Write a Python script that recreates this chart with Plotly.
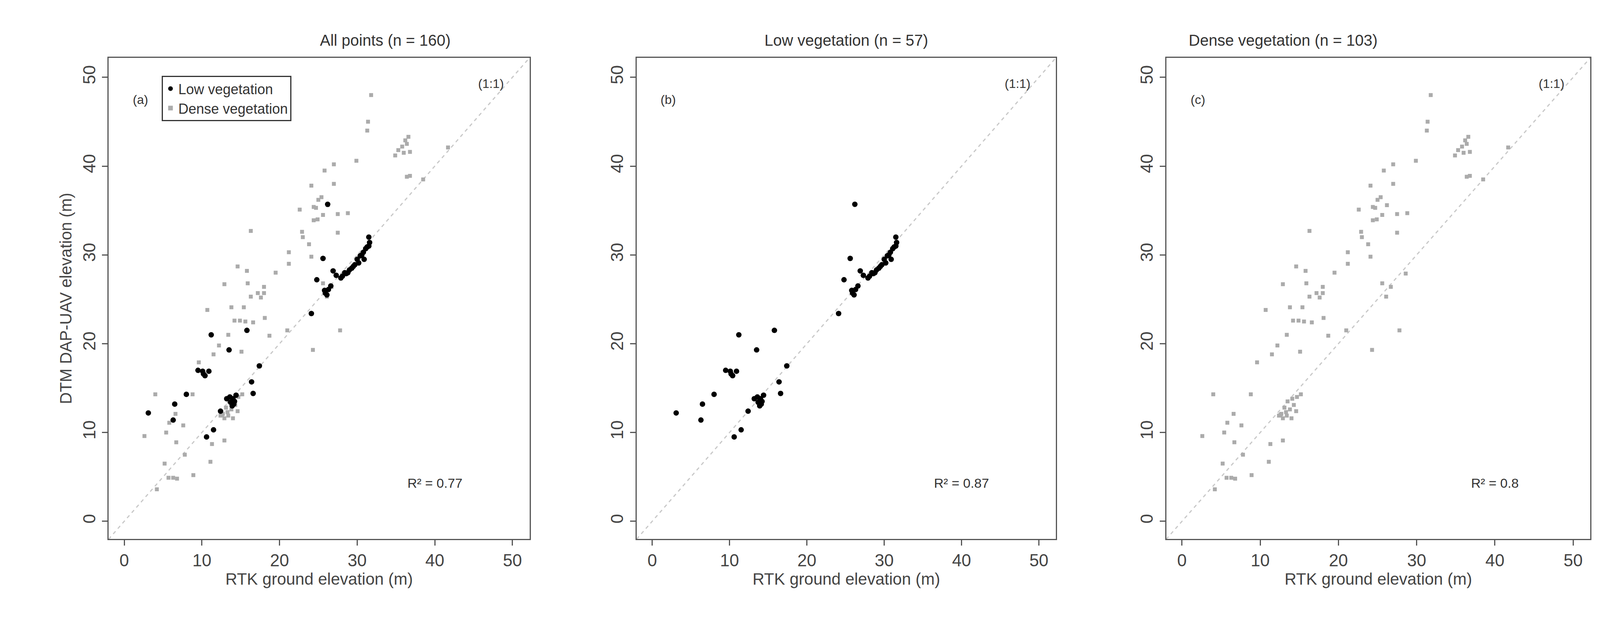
import plotly.graph_objects as go

# RTK vs DTM elevations
low_x = [3.1, 6.5, 6.3, 8.0, 9.5, 10.2, 10.9, 10.1, 11.2, 10.6, 11.5, 12.4, 13.5, 13.2, 13.7, 14.0,
         14.4, 14.2, 13.9, 15.8, 16.4, 16.6, 17.4, 24.1, 24.8, 25.6, 26.2, 25.9, 26.3, 26.6, 26.1,
         26.9, 27.3, 28.1, 28.4, 29.0, 29.3, 29.7, 30.0, 30.4, 30.8, 31.1, 31.5, 31.5, 31.6, 30.9,
         30.2, 28.8, 29.5, 28.6, 27.9, 25.8, 30.6, 31.3, 13.6, 14.1, 10.4]
low_y = [12.2, 13.2, 11.4, 14.3, 17.0, 16.6, 16.9, 16.9, 21.0, 9.5, 10.3, 12.4, 19.3, 13.8, 13.4, 13.8,
         14.2, 13.5, 13.0, 21.5, 15.7, 14.4, 17.5, 23.4, 27.2, 29.6, 35.7, 25.7, 26.1, 26.5, 25.5,
         28.2, 27.7, 27.6, 28.0, 28.3, 28.5, 28.9, 29.5, 29.9, 30.3, 30.7, 31.0, 32.0, 31.4, 29.5,
         29.1, 28.0, 28.7, 27.9, 27.4, 26.0, 30.0, 30.9, 14.0, 13.2, 16.4]

dense_x = [31.8, 31.4, 31.3, 36.6, 36.4, 35.8, 35.3, 34.9, 36.8, 36.2, 41.7, 38.5, 36.4, 36.8, 29.9,
           27.0, 25.8, 24.1, 27.0, 25.4, 24.4, 24.7, 26.2, 22.6, 27.5, 28.8, 25.6, 24.4, 16.3, 22.9,
           23.0, 27.5, 23.8, 24.1, 21.2, 21.2, 19.5, 14.6, 15.8, 12.9, 15.9, 18.0, 18.0, 17.2, 16.3,
           28.6, 25.6, 26.7, 26.1, 13.8, 15.4, 10.7, 14.2, 14.9, 15.6, 16.6, 18.1, 13.4, 18.7, 21.0,
           27.8, 12.2, 11.5, 15.1, 24.3, 9.6, 4.0, 8.8, 15.2, 14.7, 14.1, 13.5, 14.3, 13.8, 13.3,
           12.7, 13.4, 14.0, 12.9, 12.4, 6.6, 5.8, 7.6, 5.4, 2.6, 6.7, 11.3, 12.9, 7.8, 5.2, 11.1,
           8.9, 5.7, 6.3, 6.8, 4.2, 36.0, 25.0, 13.1, 14.6, 12.6, 24.9, 17.6]
dense_y = [48.0, 45.0, 44.0, 43.3, 42.5, 42.2, 41.8, 41.2, 41.6, 42.9, 42.1, 38.5, 38.8, 38.9, 40.6,
           40.2, 39.5, 37.8, 38.0, 36.5, 35.4, 35.3, 35.6, 35.1, 34.6, 34.7, 34.5, 33.9, 32.7, 32.6,
           32.0, 32.5, 31.2, 29.8, 30.3, 29.0, 28.0, 28.7, 28.2, 26.7, 26.8, 26.4, 25.7, 25.7, 25.3,
           27.9, 26.8, 26.4, 25.3, 24.1, 24.1, 23.8, 22.6, 22.6, 22.5, 22.4, 22.9, 21.0, 20.9, 21.5,
           21.5, 19.8, 18.8, 19.1, 19.3, 17.9, 14.3, 14.3, 14.3, 14.0, 13.8, 13.5, 13.1, 12.6, 12.3,
           12.1, 11.9, 11.6, 11.6, 11.9, 12.1, 11.1, 10.8, 10.0, 9.6, 8.9, 8.7, 9.1, 7.5, 6.5, 6.7,
           5.2, 4.9, 4.9, 4.8, 3.6, 41.5, 36.2, 12.8, 12.4, 12.0, 34.0, 25.2]

titles = ["All points (n = 160)", "Low vegetation (n = 57)", "Dense vegetation (n = 103)"]
panel_tags = ["(a)", "(b)", "(c)"]
r2_labels = ["R² = 0.77", "R² = 0.87", "R² = 0.8"]
one_to_one = [-5, 55]

LOW_C = "#000000"
DENSE_C = "#ababab"
FONT = "Liberation Sans"

domains = [(0.066, 0.329), (0.396, 0.658), (0.727, 0.992)]
y_dom = (0.137, 0.912)

fig = go.Figure()

panels = [
    [("Dense vegetation", dense_x, dense_y, DENSE_C, 10), ("Low vegetation", low_x, low_y, LOW_C, 14)],
    [("Low vegetation", low_x, low_y, LOW_C, 14)],
    [("Dense vegetation", dense_x, dense_y, DENSE_C, 10)],
]

for i, series in enumerate(panels):
    n = "" if i == 0 else str(i + 1)
    xa, ya = "x" + n, "y" + n
    fig.add_trace(go.Scatter(x=one_to_one, y=one_to_one, mode="lines", xaxis=xa, yaxis=ya,
                             line=dict(color="#c8c8c8", width=3, dash="dash"),
                             showlegend=False, hoverinfo="skip"))
    for name, xs, ys, col, sz in series:
        fig.add_trace(go.Scatter(x=xs, y=ys, mode="markers", name=name, xaxis=xa, yaxis=ya,
                                 marker=dict(color=col, size=sz, symbol="circle" if col == LOW_C else "square"),
                                 showlegend=False))
    axis_common = dict(range=[-2, 52.2], showgrid=False, zeroline=False, showline=True,
                       linecolor="#555555", linewidth=3, mirror=True, ticks="outside",
                       ticklen=14, tickwidth=3, tickcolor="#555555", tickvals=[0, 10, 20, 30, 40, 50],
                       tickfont=dict(size=44, color="#444444", family=FONT))
    fig.update_layout(**{
        "xaxis" + n: dict(domain=domains[i], anchor=ya, title=dict(text="RTK ground elevation (m)",
                          font=dict(size=42, color="#444444", family=FONT), standoff=8), **axis_common),
        "yaxis" + n: dict(domain=y_dom, anchor=xa, tickangle=-90,
                          title=dict(text="DTM DAP-UAV elevation (m)" if i == 0 else "",
                                     font=dict(size=42, color="#444444", family=FONT), standoff=8),
                          **axis_common),
    })
    x0, x1 = domains[i]
    fig.add_annotation(x=(x0 + x1) / 2, y=0.925, xref="paper", yref="paper", text=titles[i],
                       showarrow=False, yanchor="bottom", font=dict(size=40, color="#333333", family=FONT))
    fig.add_annotation(x=1.0, y=47.5, xref=xa, yref=ya, text=panel_tags[i], showarrow=False,
                       xanchor="left", font=dict(size=32, color="#333333", family=FONT))
    fig.add_annotation(x=49, y=49.3, xref=xa, yref=ya, text="(1:1)", showarrow=False,
                       xanchor="right", font=dict(size=32, color="#333333", family=FONT))
    fig.add_annotation(x=40, y=4.3, xref=xa, yref=ya, text=r2_labels[i], showarrow=False,
                       font=dict(size=34, color="#333333", family=FONT))

# legend for panel (a)
for name, col, sym in [("Low vegetation", LOW_C, "circle"), ("Dense vegetation", DENSE_C, "square")]:
    fig.add_trace(go.Scatter(x=[None], y=[None], mode="markers", name=name,
                             marker=dict(color=col, size=9, symbol=sym)))

fig.update_layout(
    autosize=True, paper_bgcolor="white", plot_bgcolor="white",
    margin=dict(l=0, r=0, t=0, b=0),
    legend=dict(x=0.099, y=0.883, xanchor="left", yanchor="top", bordercolor="#333333",
                borderwidth=3, bgcolor="white", font=dict(size=36, color="#333333", family=FONT),
                itemsizing="constant", tracegroupgap=0),
)

fig.write_html("out.html", default_width="100vw", default_height="100vh")
